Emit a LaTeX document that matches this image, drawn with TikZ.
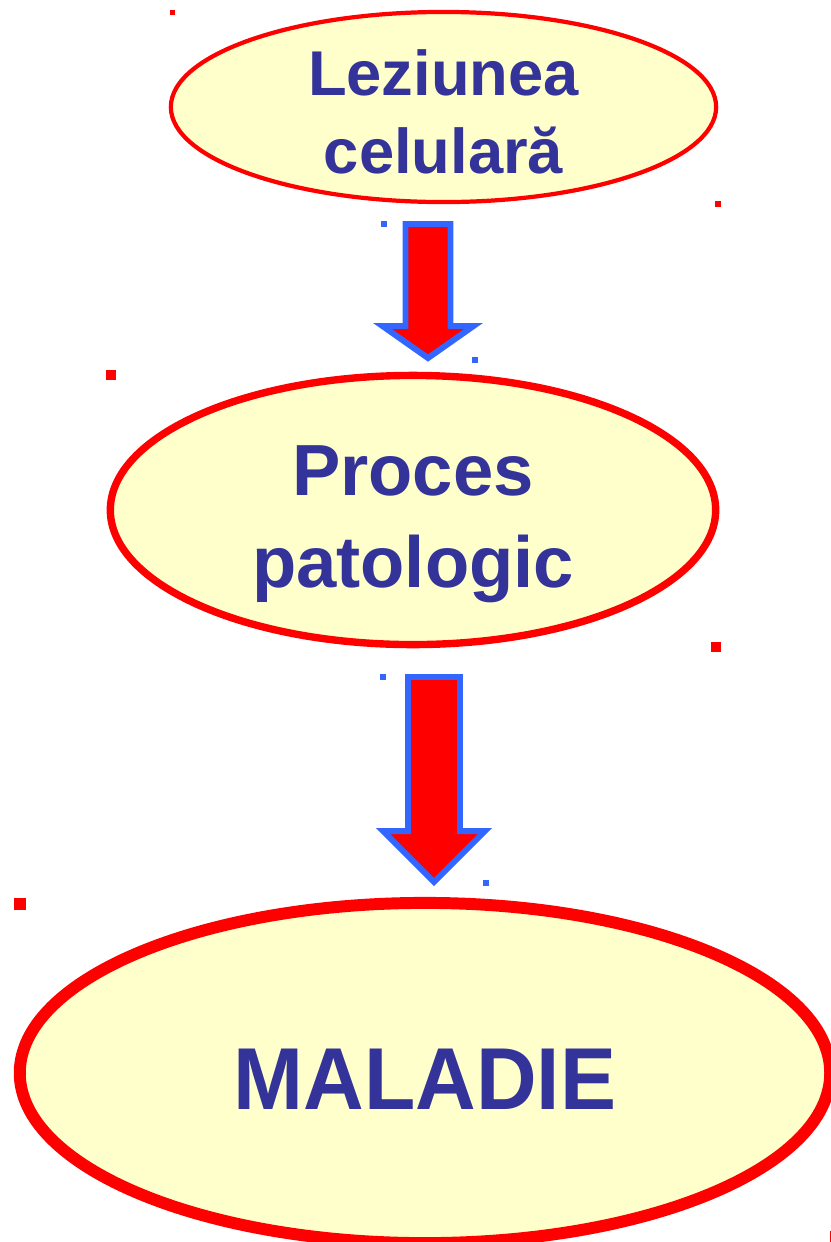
\documentclass[tikz,border=0pt]{standalone}
\usepackage{fontspec}
\setmainfont{Liberation Sans}
\usetikzlibrary{shapes.geometric}
\definecolor{rim}{HTML}{FF0000}
\definecolor{cream}{HTML}{FFFFCC}
\definecolor{ink}{HTML}{333399}
\definecolor{edge}{HTML}{3366FF}

\begin{document}
\begin{tikzpicture}[
    x=0.01cm, y=-0.01cm,
    bubble/.style={ellipse, draw=rim, fill=cream, text=ink, align=center,
                   inner sep=0pt, text depth=0pt},
    flowarrow/.style={draw=edge, fill=rim, line width=1.7pt, miter limit=10},
    redhandle/.style={fill=rim},
    bluehandle/.style={fill=edge}
  ]
    \useasboundingbox (0,0) rectangle (831,1242);

    \node[bubble, line width=1.2pt, minimum width=5.45cm, minimum height=1.90cm,
          text height=37.6pt, font=\bfseries\fontsize{18}{22.2}\selectfont]
          (lesion) at (443.5,107) {Leziunea\\celulară};
    \node[bubble, line width=2.1pt, minimum width=6.05cm, minimum height=2.69cm,
          text height=43.8pt, font=\bfseries\fontsize{20.6}{25.9}\selectfont]
          (process) at (413,510) {Proces\\patologic};
    \node[bubble, line width=3.4pt, minimum width=8.10cm, minimum height=3.40cm,
          text height=20.5pt, font=\bfseries\fontsize{25}{30}\selectfont]
          (disease) at (425,1073) {\scalebox{0.955}[1]{MALADIE}};

    % block arrows between the ellipses
    \coordinate (a1) at (428,224);
    \coordinate (a2) at (434,677);
    \draw[flowarrow] (a1) ++(-22.5,0) -- ++(45,0) -- ++(0,102) -- ++(23,0)
        -- ++(-45.5,32) -- ++(-45.5,-32) -- ++(23,0) -- cycle;
    \draw[flowarrow] (a2) ++(-26,0) -- ++(52,0) -- ++(0,154) -- ++(25,0)
        -- ++(-51,51) -- ++(-51,-51) -- ++(25,0) -- cycle;

    % selection handles
    \foreach \hx/\hy/\hs in {172/12/5, 718/204/6, 111/375/10, 716/647/10, 20/904/12}
      \fill[redhandle] (\hx-\hs/2,\hy-\hs/2) rectangle ++(\hs,\hs);
    \fill[redhandle] (829.5,1231) rectangle (836,1242);
    \foreach \hx/\hy in {383.5/224, 474.5/360, 383/677, 485.5/882.5}
      \fill[bluehandle] (\hx-3,\hy-3) rectangle ++(6,6);
\end{tikzpicture}
\end{document}
